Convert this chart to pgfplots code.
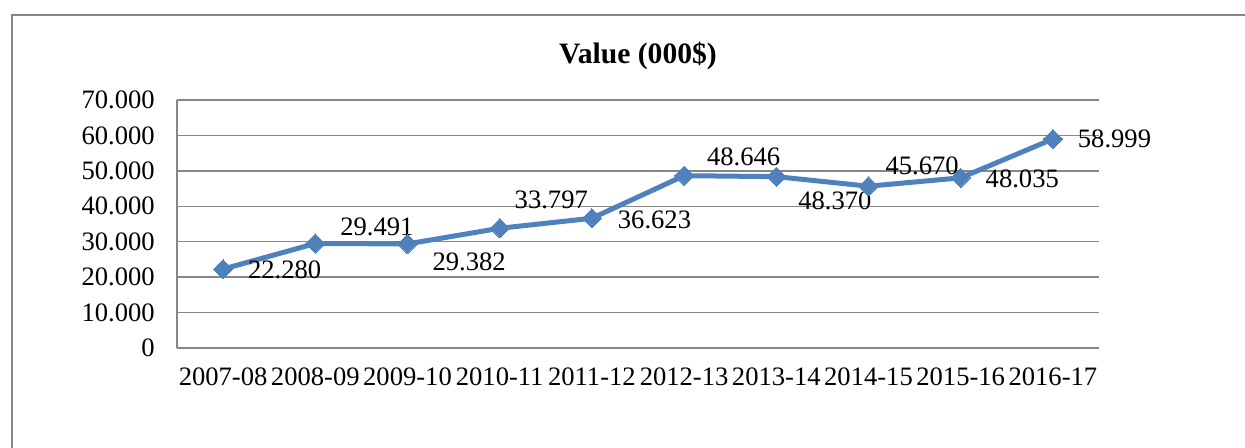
\documentclass[border=0pt]{standalone}
\usepackage{fontspec}
\setmainfont{Liberation Serif}
\usepackage{pgfplots}
\pgfplotsset{compat=1.18}
\definecolor{xlblue}{HTML}{4F81BD}
\definecolor{xlgrid}{RGB}{134,134,134}
\begin{document}
\begin{tikzpicture}
\begin{axis}[
  scale only axis,
  width=461pt, height=124pt,
  at={(0,0)}, anchor=south west,
  xmin=-0.5, xmax=9.5,
  ymin=0, ymax=70,
  xtick={0,...,9},
  xticklabels={2007-08,2008-09,2009-10,2010-11,2011-12,2012-13,2013-14,2014-15,2015-16,2016-17},
  ytick={0,10,20,30,40,50,60,70},
  yticklabels={0,10.000,20.000,30.000,40.000,50.000,60.000,70.000},
  /pgf/number format/assume math mode=true,
  axis x line*=bottom, axis y line*=left,
  axis line style={xlgrid, line width=0.7pt, -},
  ymajorgrids,
  major grid style={xlgrid, line width=0.7pt},
  major tick length=0pt,
  tick label style={font=\fontsize{13.3}{15}\selectfont, text=black},
  yticklabel style={anchor=east, xshift=-7.6pt},
  xticklabel style={anchor=north, yshift=-6.5pt},
  clip=false,
]
\addplot[
  color=xlblue, line width=2.5pt,
  mark=square*, mark size=3.4pt,
  mark options={rotate=45, fill=xlblue, draw=xlblue, line width=0pt},
  nodes near coords,
  point meta=explicit symbolic,
  visualization depends on={\thisrow{dx} \as \myDx},
  visualization depends on={\thisrow{dy} \as \myDy},
  nodes near coords style={anchor=west, inner sep=0pt, xshift=\myDx pt, yshift=\myDy pt,
    font=\fontsize{13.3}{15}\selectfont, text=black},
] table[x=x, y=y, meta=lab] {
x y dx dy lab
0 22.280 12.5 -0.5 22.280
1 29.491 12.5 8.5 29.491
2 29.382 12.5 -9 29.382
3 33.797 7.5 14 33.797
4 36.623 13 -1 36.623
5 48.646 11.5 9.5 48.646
6 48.370 11 -12 48.370
7 45.670 8.5 10 45.670
8 48.035 12.5 -0.5 48.035
9 58.999 12.5 0 58.999
};
\end{axis}
\node[font=\bfseries\fontsize{14.8}{17}\selectfont] at (230.5pt,146pt) {Value (000\$)};
\draw[xlgrid, line width=0.75pt] (-82.5pt,-60pt) -- (-82.5pt,166.5pt) -- (540pt,166.5pt);
\pgfresetboundingbox
\path[use as bounding box] (-88.5pt,-49.5pt) rectangle (534pt,174pt);
\end{tikzpicture}
\end{document}
